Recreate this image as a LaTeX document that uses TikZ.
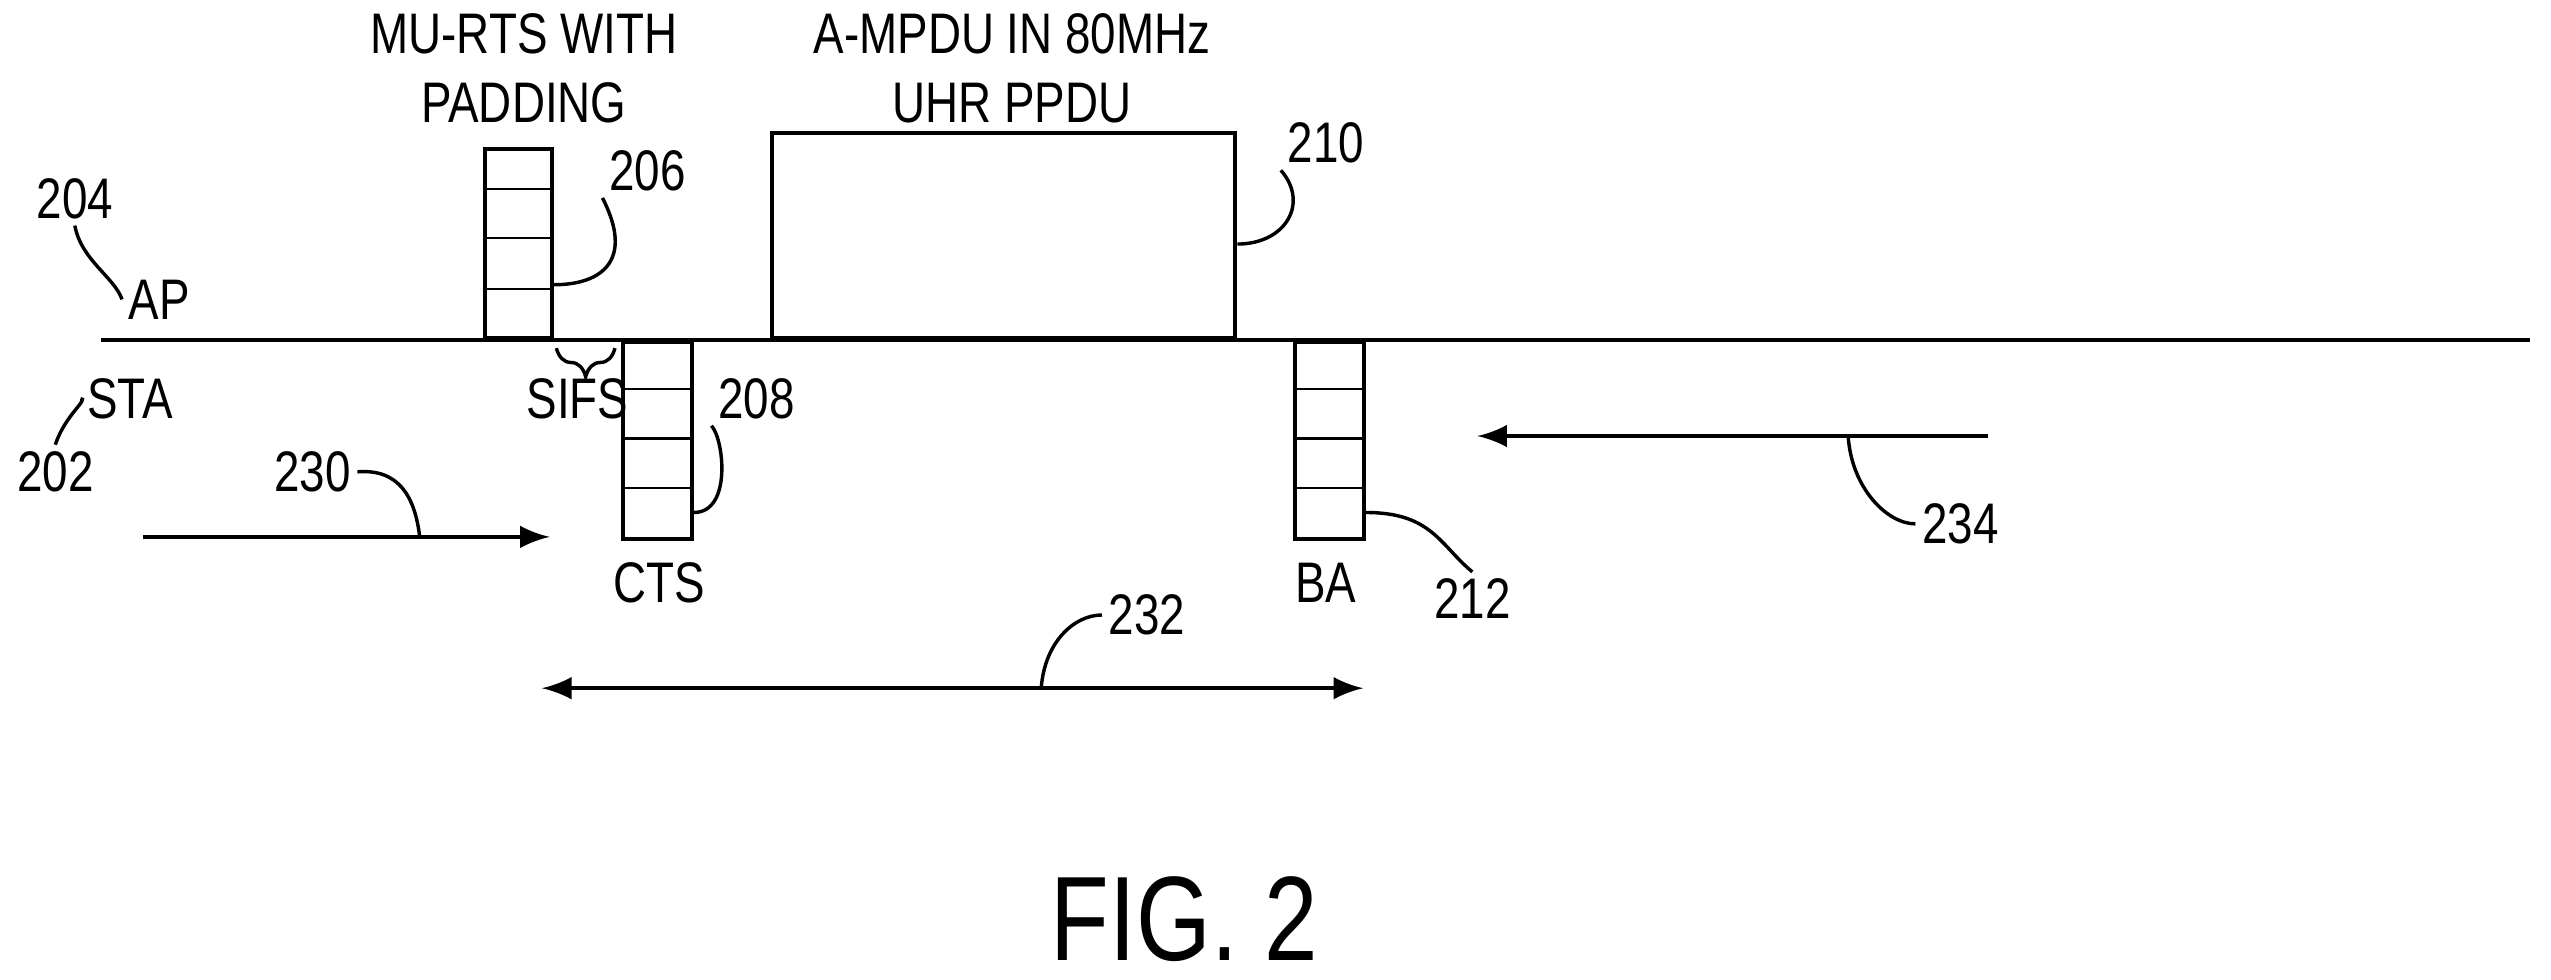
\documentclass[tikz,border=0pt]{standalone}
\usepackage{fontspec}
\setmainfont{Liberation Sans}[FakeStretch=0.8]
\usetikzlibrary{positioning,decorations.pathreplacing}
\begin{document}
\begin{tikzpicture}[x=0.01cm,y=-0.01cm,
  lbl/.style={inner sep=1pt,font=\fontsize{10}{12}\selectfont},
  frame/.style={draw,line width=0.7pt,inner sep=0pt},
  lead/.style={line width=0.6pt},
  arr/.style={line width=0.8pt,-latex}]
\useasboundingbox (0,0) rectangle (1568,602);

%timeline
\coordinate (t0) at (62,209);
\coordinate (t1) at (1555,209);
\draw[line width=0.8pt] (t0)--(t1);

%MU-RTS
\node[frame,minimum width=0.41cm,minimum height=1.16cm,anchor=south west] (rts) at (297,209) {};
\foreach \y in {0.27,0.54,0.8} \draw (rts.south west)++(0,-116*\y) -- ++(41,0);
\node[lbl,align=center] (rtstxt) at (322,42) {MU-RTS WITH\\PADDING};
\node[lbl] (n206) at (398,105) {206};
\draw[lead] (rts.east |- 0,175) .. controls (370,175) and (390,160) .. (n206.south west);

%A-MPDU
\node[frame,minimum width=2.85cm,minimum height=1.26cm,anchor=south west] (ppdu) at (473,209) {};
\node[lbl,align=center] (ppdutxt) at (622,42) {A-MPDU IN 80MHz\\UHR PPDU};
\node[lbl] (n210) at (815,88) {210};
\draw[lead] (ppdu.east |- 0,150) .. controls (790,150) and (805,125) .. (n210.south west);

%CTS
\node[frame,minimum width=0.42cm,minimum height=1.21cm,anchor=north west] (cts) at (382,209) {};
\foreach \y in {0.25,0.5,0.75} \draw (cts.north west)++(0,121*\y) -- ++(42,0);
\node[lbl] (ctstxt) at (405,358) {CTS};
\node[lbl] (n208) at (465,245) {208};
\draw[lead] (cts.east |- 0,315) .. controls (450,315) and (445,270) .. (n208.south west);

%BA
\node[frame,minimum width=0.42cm,minimum height=1.21cm,anchor=north west] (ba) at (795,209) {};
\foreach \y in {0.25,0.5,0.75} \draw (ba.north west)++(0,121*\y) -- ++(42,0);
\node[lbl] (batxt) at (815,358) {BA};
\node[lbl] (n212) at (905,368) {212};
\draw[lead] (ba.east |- 0,315) .. controls (880,315) and (885,335) .. (n212.north);

%SIFS
\draw[decorate,decoration={brace,mirror,amplitude=5pt},line width=0.6pt] (342,214) -- (378,214);
\node[lbl] (sifs) at (355,245) {SIFS};

%AP and STA
\node[lbl] (ap) at (98,184) {AP};
\node[lbl] (n204) at (46,122) {204};
\draw[lead] (n204.south) .. controls (50,160) and (70,170) .. (ap.west);
\node[lbl] (sta) at (80,245) {STA};
\node[lbl] (n202) at (34,290) {202};
\draw[lead] (sta.west) .. controls (55,245) and (40,255) .. (n202.north);

%arrows
\coordinate (a0) at (88,330);
\coordinate (a1) at (338,330);
\draw[arr] (a0)--(a1);
\node[lbl] (n230) at (192,290) {230};
\draw[lead] (n230.east) .. controls (245,288) and (255,305) .. (258,330);

\coordinate (b0) at (1222,268);
\coordinate (b1) at (908,268);
\draw[arr] (b0)--(b1);
\node[lbl] (n234) at (1205,322) {234};
\draw[lead] (1136,268) .. controls (1138,300) and (1160,322) .. (n234.west);

\coordinate (c0) at (333,423);
\coordinate (c1) at (838,423);
\draw[arr,latex-latex] (c0)--(c1);
\node[lbl] (n232) at (705,378) {232};
\draw[lead] (n232.west) .. controls (660,378) and (642,395) .. (640,423);

%caption
\node[font=\fontsize{21}{24}\selectfont] (fig) at (728,565) {FIG. 2};
\end{tikzpicture}
\end{document}
